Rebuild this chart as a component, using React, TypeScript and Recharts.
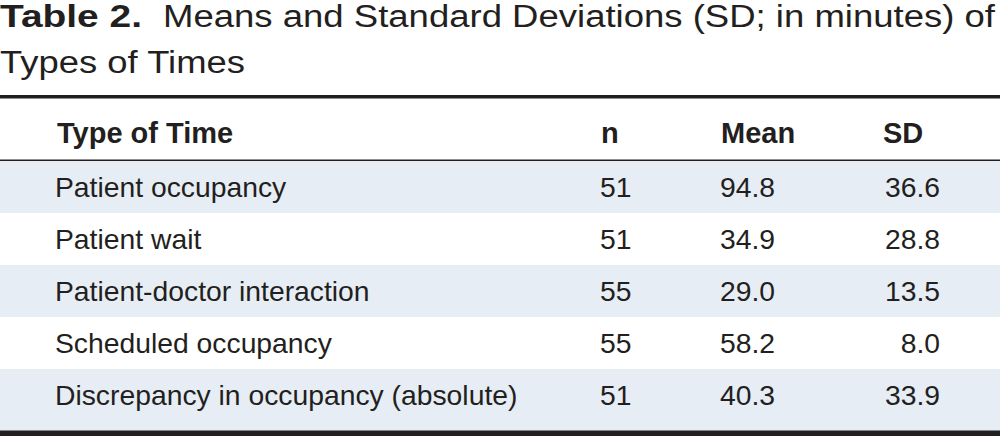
import React from "react";
import { ComposedChart, XAxis, YAxis, Bar, Cell, LabelList, Customized } from "recharts";

const types = [
  "Patient occupancy",
  "Patient wait",
  "Patient-doctor interaction",
  "Scheduled occupancy",
  "Discrepancy in occupancy (absolute)",
];
const nValues = [51, 51, 55, 55, 51];
const means = [94.8, 34.9, 29.0, 58.2, 40.3];
const sds = [36.6, 28.8, 13.5, 8.0, 33.9];
const headers = ["Type of Time", "n", "Mean", "SD"];

const rows = types.map((type, i) => ({
  type,
  n: nValues[i],
  mean: means[i],
  sd: sds[i],
}));

const INK = "#231f20";
const SHADE = "#e7edf5";
const FONT = "'Liberation Sans', Arial, Helvetica, sans-serif";

// one table row of text, placed on the band the category scale gives the row
function RowLabel(props: any) {
  const { y, height, index } = props;
  const row = rows[index];
  if (!row) return null;
  const base = Number(y) + Number(height) / 2 + 10;
  return (
    <g fontFamily={FONT} fontSize={28.3} fill={INK}>
      <text x={55} y={base}>{row.type}</text>
      <text x={600} y={base}>{row.n}</text>
      <text x={720} y={base}>{row.mean.toFixed(1)}</text>
      <text x={940} y={base} textAnchor="end">{row.sd.toFixed(1)}</text>
    </g>
  );
}

function Header() {
  return (
    <g fontFamily={FONT} fill={INK}>
      <text x={0} y={27} fontSize={31} fontWeight="bold" textLength={142} lengthAdjust="spacingAndGlyphs">
        Table 2.
      </text>
      <text x={163} y={27} fontSize={31} textLength={832} lengthAdjust="spacingAndGlyphs">
        Means and Standard Deviations (SD; in minutes) of
      </text>
      <text x={0} y={73} fontSize={31} textLength={245} lengthAdjust="spacingAndGlyphs">
        Types of Times
      </text>
      <rect x={0} y={95} width={1000} height={3.5} fill={INK} />
      <g fontSize={29} fontWeight="bold">
        <text x={57} y={143}>{headers[0]}</text>
        <text x={601} y={143}>{headers[1]}</text>
        <text x={721} y={143}>{headers[2]}</text>
        <text x={883} y={143}>{headers[3]}</text>
      </g>
      <rect x={0} y={159.5} width={1000} height={1.8} fill={INK} />
      <rect x={0} y={421} width={1000} height={10} fill={SHADE} />
      <rect x={0} y={430.5} width={1000} height={6} fill={INK} />
    </g>
  );
}

export default function App() {
  return (
    <div style={{ width: 1000, height: 436, background: "#fff" }}>
      <style>{`body{margin:0}`}</style>
      <ComposedChart
        width={1000}
        height={436}
        data={rows}
        layout="vertical"
        barCategoryGap={0}
        margin={{ top: 161, right: 0, bottom: 15, left: 0 }}
      >
        <XAxis type="number" domain={[0, 1]} hide />
        <YAxis type="category" dataKey="type" hide />
        {/* full-width row bands, shaded on alternate rows */}
        <Bar dataKey={() => 1} isAnimationActive={false}>
          {rows.map((r, i) => (
            <Cell key={r.type} fill={i % 2 === 0 ? SHADE : "#ffffff"} />
          ))}
          <LabelList dataKey="type" content={<RowLabel />} />
        </Bar>
        <Customized component={<Header />} />
      </ComposedChart>
    </div>
  );
}
